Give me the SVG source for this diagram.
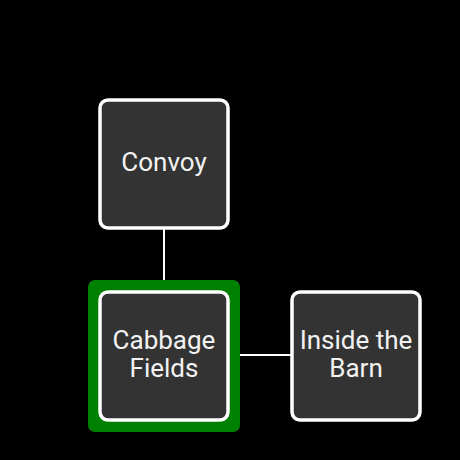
<svg xmlns="http://www.w3.org/2000/svg" width="460" height="460" viewBox="0 0 460 460">
<style>
.node{fill:#333333;stroke:#ffffff;stroke-width:3.5}
.lbl{font-family:Roboto,"Liberation Sans",sans-serif;font-size:26px;fill:#f2f2f2;text-anchor:middle}
.edge{stroke:#ffffff;stroke-width:2;fill:none}
</style>
<rect x="0" y="0" width="460" height="460" fill="#000000"/>
<g id="connectors">
<line class="edge" x1="164" y1="228" x2="164" y2="292"/>
<line class="edge" x1="228" y1="355" x2="292" y2="355"/>
</g>
<g id="convoy">
<rect class="node" x="100" y="100" width="128" height="128" rx="8"/>
<text class="lbl" x="164" y="171">Convoy</text>
</g>
<g id="cabbage-fields">
<rect x="88" y="280" width="152" height="152" rx="7" fill="#008000"/>
<rect class="node" x="100" y="292" width="128" height="128" rx="8"/>
<text class="lbl" x="164" y="349">Cabbage</text>
<text class="lbl" x="164" y="377">Fields</text>
</g>
<g id="inside-the-barn">
<rect class="node" x="292" y="292" width="128" height="128" rx="8"/>
<text class="lbl" x="356" y="349">Inside the</text>
<text class="lbl" x="356" y="377">Barn</text>
</g>
</svg>
